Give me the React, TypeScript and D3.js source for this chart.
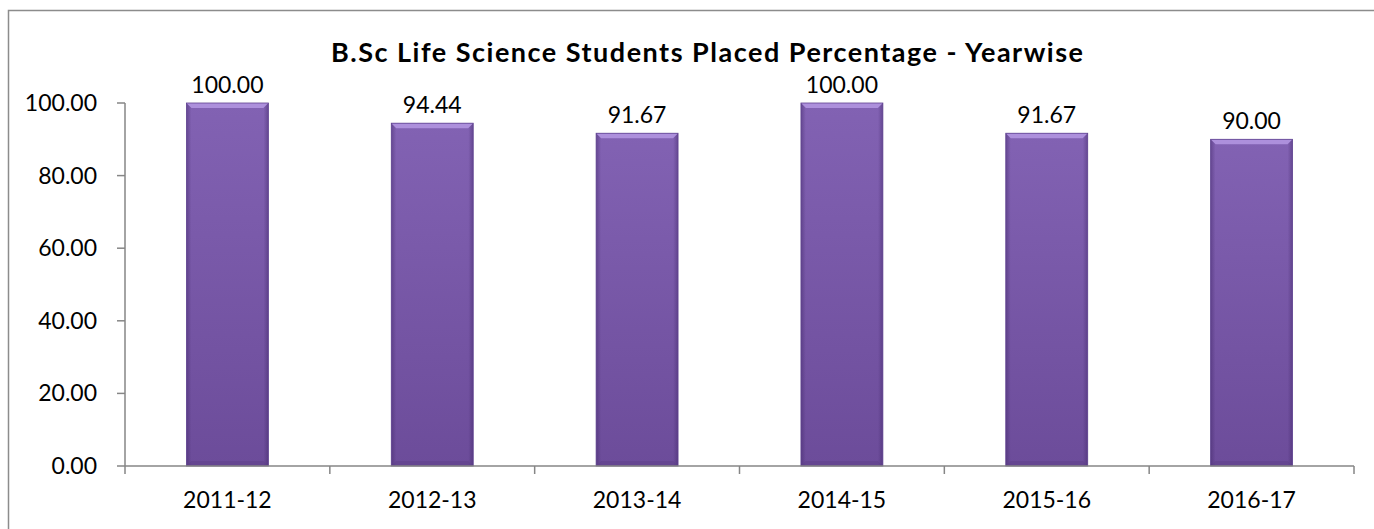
import { useRef, useEffect } from "react";
import * as d3 from "d3";

const years = ["2011-12", "2012-13", "2013-14", "2014-15", "2015-16", "2016-17"];
const placed = [100.0, 94.44, 91.67, 100.0, 91.67, 90.0];
const yTicks = [0, 20, 40, 60, 80, 100];
const title = "B.Sc Life Science Students Placed Percentage - Yearwise";

const App = () => {
  const svgRef = useRef(null);
  const width = 1374;
  const height = 529;

  useEffect(() => {
    const svg = d3.select(svgRef.current);
    svg.selectAll("*").remove();

    const margin = { top: 103, right: 20, bottom: 63, left: 125 };
    const plotRight = 1354;
    const plotBottom = height - margin.bottom;

    const x = d3.scaleBand().domain(years).range([margin.left, plotRight]).paddingInner(0).paddingOuter(0);
    const y = d3.scaleLinear().domain([0, 100]).range([plotBottom, margin.top]);

    const font = "Lato, 'Open Sans', sans-serif";

    // gradients
    const defs = svg.append("defs");
    const gv = defs.append("linearGradient").attr("id", "barV").attr("x1", 0).attr("y1", 0).attr("x2", 0).attr("y2", 1);
    gv.append("stop").attr("offset", "0%").attr("stop-color", "#8262b3");
    gv.append("stop").attr("offset", "100%").attr("stop-color", "#6c4c9a");
    const gh = defs.append("linearGradient").attr("id", "barH").attr("x1", 0).attr("y1", 0).attr("x2", 1).attr("y2", 0);
    gh.append("stop").attr("offset", "0%").attr("stop-color", "#3a2060").attr("stop-opacity", 0.4);
    gh.append("stop").attr("offset", "6%").attr("stop-color", "#3a2060").attr("stop-opacity", 0);
    gh.append("stop").attr("offset", "94%").attr("stop-color", "#3a2060").attr("stop-opacity", 0);
    gh.append("stop").attr("offset", "100%").attr("stop-color", "#3a2060").attr("stop-opacity", 0.4);

    // outer border
    svg.append("rect")
      .attr("x", 8.5).attr("y", 10.5)
      .attr("width", width + 10).attr("height", height + 10)
      .attr("fill", "none").attr("stroke", "#8c8c8c").attr("stroke-width", 1.5);

    // title
    svg.append("text")
      .attr("x", 331).attr("y", 62)
      .attr("textLength", 752).attr("lengthAdjust", "spacing")
      .attr("font-family", font).attr("font-weight", "bold").attr("font-size", 27)
      .attr("fill", "#000")
      .text(title);

    // bars
    const bw = x.bandwidth() * 0.4;
    const bev = 5;
    const g = svg.append("g");
    years.forEach((yr, i) => {
      const cx = x(yr) + x.bandwidth() / 2;
      const x0 = cx - bw / 2;
      const x1 = cx + bw / 2;
      const top = y(placed[i]);
      const bot = y(0);
      const bar = g.append("g");
      bar.append("rect").attr("x", x0).attr("y", top).attr("width", bw).attr("height", bot - top).attr("fill", "url(#barV)");
      bar.append("rect").attr("x", x0).attr("y", top).attr("width", bw).attr("height", bot - top).attr("fill", "url(#barH)");
      // top bevel
      bar.append("polygon")
        .attr("points", `${x0},${top} ${x1},${top} ${x1 - bev},${top + bev} ${x0 + bev},${top + bev}`)
        .attr("fill", "#ad90dc");
      // bottom bevel
      bar.append("polygon")
        .attr("points", `${x0},${bot} ${x1},${bot} ${x1 - bev},${bot - bev} ${x0 + bev},${bot - bev}`)
        .attr("fill", "#5d4088").attr("opacity", 0.5);
      bar.append("rect").attr("x", x0).attr("y", top).attr("width", bw).attr("height", bot - top)
        .attr("fill", "none").attr("stroke", "#5f4290").attr("stroke-width", 0.8);

      g.append("text")
        .attr("x", cx).attr("y", top - 10)
        .attr("text-anchor", "middle")
        .attr("font-family", font).attr("font-size", 23)
        .attr("fill", "#000")
        .text(d3.format(".2f")(placed[i]));
    });

    // y axis
    const yAxis = svg.append("g");
    yAxis.append("line").attr("x1", margin.left).attr("x2", margin.left).attr("y1", y(100)).attr("y2", plotBottom)
      .attr("stroke", "#868686").attr("stroke-width", 1.5);
    yTicks.forEach((t) => {
      yAxis.append("line").attr("x1", margin.left - 8).attr("x2", margin.left).attr("y1", y(t)).attr("y2", y(t))
        .attr("stroke", "#868686").attr("stroke-width", 1.5);
      yAxis.append("text")
        .attr("x", 97).attr("y", y(t)).attr("dy", "0.35em")
        .attr("text-anchor", "end")
        .attr("font-family", font).attr("font-size", 23)
        .attr("fill", "#000")
        .text(d3.format(".2f")(t));
    });

    // x axis
    const xAxis = svg.append("g");
    xAxis.append("line").attr("x1", margin.left).attr("x2", plotRight).attr("y1", plotBottom).attr("y2", plotBottom)
      .attr("stroke", "#868686").attr("stroke-width", 1.5);
    const bounds = years.map((d) => x(d)).concat([plotRight]);
    bounds.forEach((b) => {
      xAxis.append("line").attr("x1", b).attr("x2", b).attr("y1", plotBottom).attr("y2", plotBottom + 8)
        .attr("stroke", "#868686").attr("stroke-width", 1.5);
    });
    years.forEach((yr) => {
      xAxis.append("text")
        .attr("x", x(yr) + x.bandwidth() / 2).attr("y", 508)
        .attr("text-anchor", "middle")
        .attr("font-family", font).attr("font-size", 23)
        .attr("fill", "#000")
        .text(yr);
    });
  }, []);

  return (
    <svg ref={svgRef} width={width} height={height} style={{ position: "absolute", left: 0, top: 0, background: "#fff" }}></svg>
  );
};

export default App;
